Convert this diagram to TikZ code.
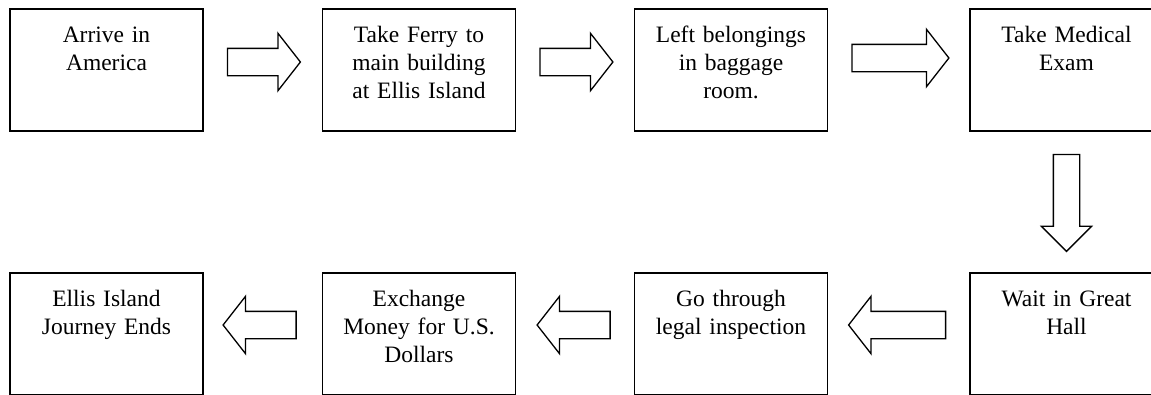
\documentclass[tikz,border=0pt]{standalone}
\usepackage{fontspec}
\setmainfont{Liberation Serif}
\usetikzlibrary{shapes.arrows,calc}

\begin{document}
\begin{tikzpicture}[x=1pt, y=-1pt,
    stage/.style={draw, line width=1.5pt, minimum width=193pt, text width=170pt, align=center,
        text height=16pt, text depth=72pt, inner ysep=17pt, font=\fontsize{23.5}{28}\selectfont},
    blockarrow/.style={draw, single arrow, line width=1.3pt, minimum height=#1, inner xsep=0pt,
        inner ysep=13pt, single arrow head extend=15pt, single arrow tip angle=104, anchor=tail},
    blockarrow/.default=73pt]
    \clip (0,0) rectangle (1151,394);
    % top row
    \node [stage] (Arrive) at (106.5,70) {Arrive in\\America};
    \node [stage] (Ferry) at (419,70) {Take Ferry to\\main building\\at Ellis Island};
    \node [stage] (Baggage) at (731,70) {Left belongings\\in baggage\\room.};
    \node [stage] (Medical) at (1066.5,70) {Take Medical\\Exam};
    % bottom row
    \node [stage] (GreatHall) at (1066.5,334) {Wait in Great\\Hall};
    \node [stage] (Legal) at (731,334) {Go through\\legal inspection};
    \node [stage] (Exchange) at (419,334) {Exchange\\Money for U.S.\\Dollars};
    \node [stage] (Ends) at (106.5,334) {Ellis Island\\Journey Ends};
    % block arrows, tail 23pt off the box
    \node [blockarrow] (ArriveFerry) at ($(Arrive.east)+(23,-8)$) {};
    \node [blockarrow] (FerryBaggage) at ($(Ferry.east)+(23,-8)$) {};
    \node [blockarrow=97pt] (BaggageMedical) at ($(Baggage.east)+(23,-12)$) {};
    \node [blockarrow=97pt, inner ysep=12.5pt, single arrow head extend=12pt, single arrow tip angle=90,
        rotate=-90] (MedicalHall) at ($(Medical.south)+(0,22)$) {};
    \node [blockarrow=97pt, rotate=180] (HallLegal) at ($(GreatHall.west)+(-23,-9)$) {};
    \node [blockarrow, rotate=180] (LegalExchange) at ($(Legal.west)+(-23,-9)$) {};
    \node [blockarrow, rotate=180] (ExchangeEnds) at ($(Exchange.west)+(-25,-9)$) {};
\end{tikzpicture}
\end{document}
